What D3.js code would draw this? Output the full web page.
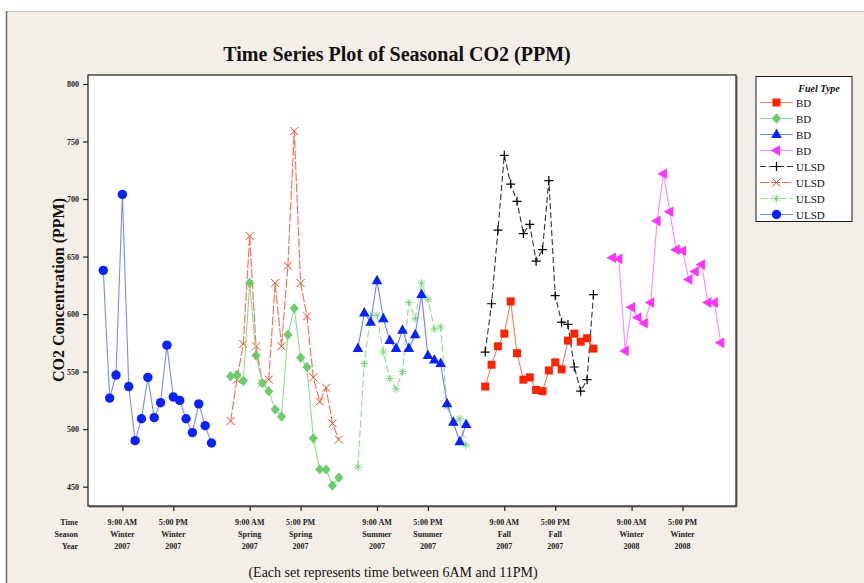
<!DOCTYPE html>
<html><head><meta charset="utf-8">
<script src="https://cdn.jsdelivr.net/npm/d3@7"></script>
<style>
html,body{margin:0;padding:0;background:#fff;}
svg{display:block;}
text{font-family:"Liberation Serif","Times New Roman",serif;}
</style></head>
<body>
<script>
// ---------- data ----------
const setNames = ["Winter 2007","Spring 2007","Summer 2007","Fall 2007","Winter 2008"];
const hoursOfDay = [6,7,8,9,10,11,12,13,14,15,16,17,18,19,20,21,22,23];
const tickTimes   = ["9:00 AM","5:00 PM","9:00 AM","5:00 PM","9:00 AM","5:00 PM","9:00 AM","5:00 PM","9:00 AM","5:00 PM"];
const tickSeasons = ["Winter","Winter","Spring","Spring","Summer","Summer","Fall","Fall","Winter","Winter"];
const tickYears   = ["2007","2007","2007","2007","2007","2007","2007","2007","2008","2008"];
const tickHours   = [9,17,9,17,9,17,9,17,9,17];
const tickSets    = [0,0,1,1,2,2,3,3,4,4];
const yTicks = [450,500,550,600,650,700,750,800];

const winter2007ULSD = [638,527,547,704,537,490,509,545,510,523,573,528,525,509,497,522,503,488];
const spring2007BD   = [546,547,542,627,564,540,533,517,511,582,605,562,554,492,465,465,451,458];
const spring2007ULSD = [507,543,574,668,572,540,543,627,572,642,759,627,598,545,524,536,505,491];
const summer2007BD   = [570,601,593,629,596,577,570,586,570,582,617,564,560,557,522,506,489,504];
const summer2007ULSD = [467,557,599,599,567,544,535,550,610,596,627,613,587,589,520,505,509,486];
const fall2007BD     = [537,556,572,583,611,566,543,545,534,533,551,558,552,577,583,576,579,570];
const fall2007ULSD   = [567,609,673,738,713,698,670,678,646,656,716,616,593,591,554,533,543,617];
const winter2008BD   = [649,648,568,606,597,592,610,681,722,689,656,655,630,637,643,610,610,575];

const legendLabels = ["BD","BD","BD","BD","ULSD","ULSD","ULSD","ULSD"];

// series styles (legend order)
const series = [
  {label:legendLabels[0], set:3, values:fall2007BD,     marker:"square",  fill:"#ff2200", line:"#ff7a60", dash:null},
  {label:legendLabels[1], set:1, values:spring2007BD,   marker:"diamond", fill:"#6ccc6c", line:"#8fdc8f", dash:null},
  {label:legendLabels[2], set:2, values:summer2007BD,   marker:"triangle",fill:"#0a22ff", line:"#7080ff", dash:null},
  {label:legendLabels[3], set:4, values:winter2008BD,   marker:"ltri",    fill:"#ff33ff", line:"#ff88ff", dash:null},
  {label:legendLabels[4], set:3, values:fall2007ULSD,   marker:"plus",    fill:"#000000", line:"#333333", dash:"6,3"},
  {label:legendLabels[5], set:1, values:spring2007ULSD, marker:"x",       fill:"#ff4422", line:"#ff6a50", dash:"9,2"},
  {label:legendLabels[6], set:2, values:summer2007ULSD, marker:"star",    fill:"#7ad27a", line:"#8fdc8f", dash:"7,3"},
  {label:legendLabels[7], set:0, values:winter2007ULSD, marker:"circle",  fill:"#0a22ff", line:"#7a8aff", dash:null}
];

// ---------- layout ----------
const W = 864, H = 583;
const svg = d3.select("body").append("svg").attr("width",W).attr("height",H);

// background
svg.append("rect").attr("x",0).attr("y",0).attr("width",W).attr("height",H).attr("fill","#ffffff");
svg.append("rect").attr("x",6).attr("y",11).attr("width",W-6).attr("height",H-11).attr("fill","#f3efe8");
svg.append("line").attr("x1",6).attr("x2",W).attr("y1",11.5).attr("y2",11.5).attr("stroke","#cfcac2").attr("stroke-width",1);
svg.append("line").attr("x1",6.5).attr("x2",6.5).attr("y1",11).attr("y2",H).attr("stroke","#6d6a66").attr("stroke-width",1.5);

const plot = {left:88, right:736, top:75, bottom:506};
const slotsPerSet = 20;
const x = d3.scaleLinear().domain([-2.4, 99.4]).range([plot.left, plot.right]);
const y = d3.scaleLinear().domain([433.2, 807.8]).range([plot.bottom, plot.top]);
const slot = (set, hour) => set*slotsPerSet + (hour - hoursOfDay[0]);

// plot area
svg.append("rect").attr("x",plot.left).attr("y",plot.top).attr("width",plot.right-plot.left).attr("height",plot.bottom-plot.top)
  .attr("fill","#ffffff");
svg.append("line").attr("x1",plot.left+1).attr("x2",plot.right+1).attr("y1",plot.bottom+0.8).attr("y2",plot.bottom+0.8).attr("stroke","#8a8a8a").attr("stroke-width",1.5);
svg.append("line").attr("x1",plot.right+0.8).attr("x2",plot.right+0.8).attr("y1",plot.top+1).attr("y2",plot.bottom+1).attr("stroke","#8a8a8a").attr("stroke-width",1.5);
svg.append("rect").attr("x",plot.left).attr("y",plot.top).attr("width",plot.right-plot.left).attr("height",plot.bottom-plot.top)
  .attr("fill","none").attr("stroke","#1a1a1a").attr("stroke-width",1.2);

// y axis
const yAxis = d3.axisLeft(y).tickValues(yTicks).tickSize(5).tickPadding(4).tickFormat(d3.format("d"));
const yg = svg.append("g").attr("transform",`translate(${plot.left},0)`).call(yAxis);
yg.select(".domain").remove();
yg.selectAll(".tick line").attr("stroke","#222").attr("stroke-width",1.2);
yg.selectAll(".tick text").attr("font-family","Liberation Serif").attr("font-weight","bold").attr("font-size","8px").attr("fill","#222");

// x axis ticks
const tickPos = tickHours.map((h,i)=>slot(tickSets[i],h));
const xAxis = d3.axisBottom(x).tickValues(tickPos).tickSize(5).tickFormat("");
const xg = svg.append("g").attr("transform",`translate(0,${plot.bottom})`).call(xAxis);
xg.select(".domain").remove();
xg.selectAll(".tick line").attr("stroke","#222").attr("stroke-width",1.2);

const rows = [tickTimes, tickSeasons, tickYears];
const rowNames = ["Time","Season","Year"];
const rowY = [524.5, 536.5, 548.5];
rows.forEach((arr,r)=>{
  svg.append("text").attr("x",78).attr("y",rowY[r]).attr("text-anchor","end")
    .attr("font-size","8px").attr("font-weight","bold").attr("fill","#222").text(rowNames[r]);
  svg.selectAll(null).data(arr).enter().append("text")
    .attr("x",(d,i)=>x(tickPos[i])).attr("y",rowY[r]).attr("text-anchor","middle")
    .attr("font-size","8px").attr("font-weight","bold").attr("fill","#222").text(d=>d);
});

// titles
svg.append("text").attr("x",397).attr("y",61).attr("text-anchor","middle")
  .attr("font-size","20px").attr("font-weight","bold").attr("fill","#111")
  .text("Time Series Plot of Seasonal CO2 (PPM)");
svg.append("text").attr("transform","translate(64,290) rotate(-90)").attr("text-anchor","middle")
  .attr("font-size","16px").attr("font-weight","bold").attr("fill","#111")
  .text("CO2 Concentration (PPM)");
svg.append("text").attr("x",393).attr("y",577).attr("text-anchor","middle")
  .attr("font-size","14px").attr("fill","#111")
  .text("(Each set represents time between 6AM and 11PM)");

// markers
function drawMarker(g, type, color, cx, cy){
  const t = `translate(${cx},${cy})`;
  if(type==="square"){
    g.append("path").attr("transform",t).attr("d",d3.symbol(d3.symbolSquare,64)()).attr("fill",color);
  } else if(type==="diamond"){
    g.append("path").attr("transform",t).attr("d","M0,-5.2L4.6,0L0,5.2L-4.6,0Z").attr("fill",color);
  } else if(type==="triangle"){
    g.append("path").attr("transform",t).attr("d","M0,-6L5.3,3.5L-5.3,3.5Z").attr("fill",color);
  } else if(type==="ltri"){
    g.append("path").attr("transform",t).attr("d","M-6,0L3.5,-5.3L3.5,5.3Z").attr("fill",color);
  } else if(type==="circle"){
    g.append("circle").attr("cx",cx).attr("cy",cy).attr("r",4.7).attr("fill",color);
  } else if(type==="plus"){
    g.append("path").attr("transform",t).attr("d","M-4.5,0L4.5,0M0,-4.5L0,4.5").attr("stroke",color).attr("stroke-width",1.2).attr("fill","none");
  } else if(type==="x"){
    g.append("path").attr("transform",t).attr("d","M-4,-4L4,4M-4,4L4,-4").attr("stroke",color).attr("stroke-width",1).attr("fill","none");
  } else if(type==="star"){
    g.append("path").attr("transform",t).attr("d","M-4,0L4,0M0,-4L0,4M-3,-3L3,3M-3,3L3,-3").attr("stroke",color).attr("stroke-width",0.9).attr("fill","none");
  }
}

const clipG = svg.append("g");
const line = d3.line().x(d=>x(d.s)).y(d=>y(d.v));
// draw in an order that puts BD/ULSD pairs sensibly
const drawOrder = [7,5,1,6,2,4,0,3];
drawOrder.forEach(i=>{
  const s = series[i];
  const pts = s.values.map((v,j)=>({s:slot(s.set,hoursOfDay[j]), v:v}));
  const g = clipG.append("g");
  g.append("path").datum(pts).attr("d",line).attr("fill","none")
    .attr("stroke",s.line).attr("stroke-width",1.1)
    .attr("stroke-dasharray",s.dash);
  pts.forEach(p=>drawMarker(g, s.marker, s.fill, x(p.s), y(p.v)));
});

// legend
const lg = svg.append("g");
lg.append("rect").attr("x",756).attr("y",76.5).attr("width",96).attr("height",145)
  .attr("fill","#ffffff").attr("stroke","#1a1a1a").attr("stroke-width",1);
lg.append("text").attr("x",819).attr("y",91.5).attr("text-anchor","middle")
  .attr("font-size","10px").attr("font-weight","bold").attr("font-style","italic").attr("fill","#111").text("Fuel Type");
series.forEach((s,i)=>{
  const cy = 102.5 + i*16;
  lg.append("line").attr("x1",760).attr("x2",793).attr("y1",cy).attr("y2",cy)
    .attr("stroke",s.line).attr("stroke-width",1.1).attr("stroke-dasharray",s.dash);
  drawMarker(lg, s.marker, s.fill, 776.5, cy);
  lg.append("text").attr("x",796).attr("y",cy+4).attr("font-size","11px").attr("fill","#111").text(s.label);
});
</script>
</body></html>
